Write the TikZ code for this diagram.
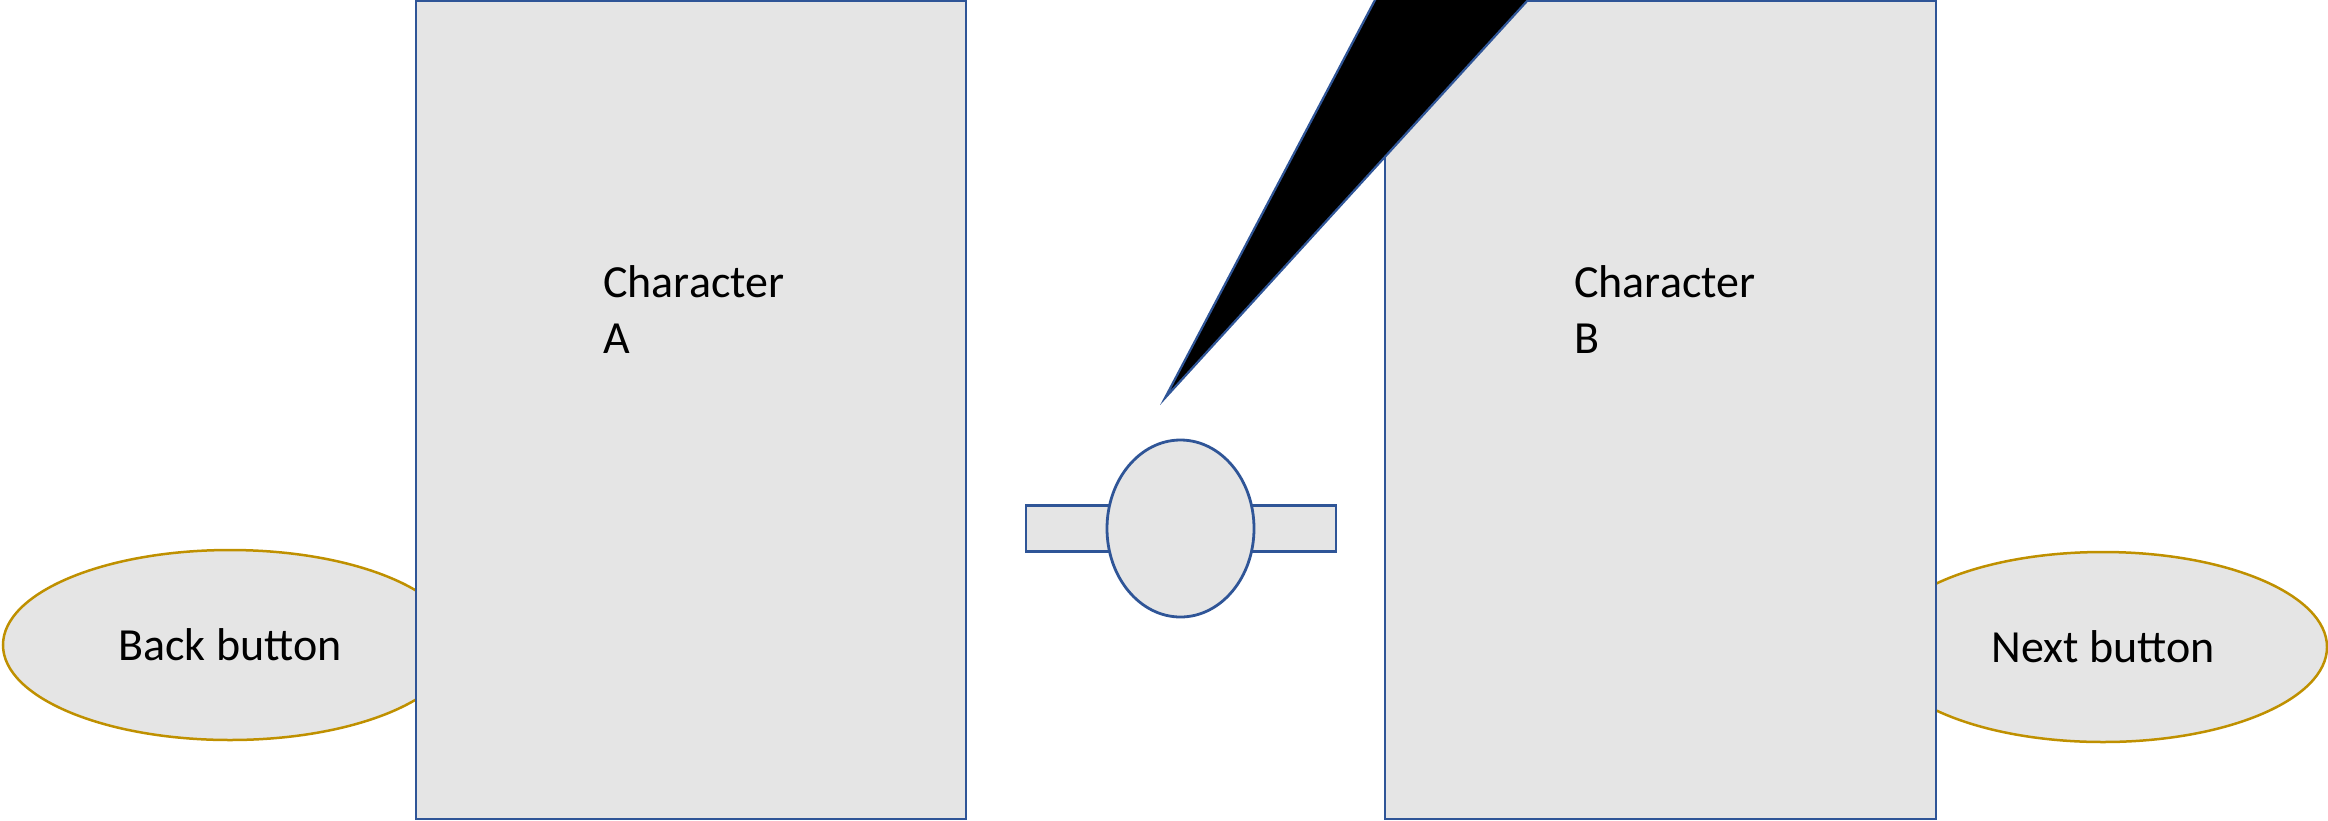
\documentclass[tikz,border=0pt]{standalone}
\usepackage{fontspec}
\setmainfont{Carlito}
\usetikzlibrary{shapes.geometric}
\definecolor{bluel}{HTML}{2F5597}
\definecolor{goldl}{HTML}{BF9000}
\definecolor{boxfill}{HTML}{E5E5E5}
\tikzset{
  charbox/.style={draw=bluel, line width=2.5pt, fill=boxfill, rectangle, inner sep=0pt},
  btn/.style={draw=goldl, line width=2.5pt, fill=boxfill, ellipse, inner sep=0pt, font=\fontsize{46}{56}\selectfont},
  lbl/.style={anchor=base west, align=left, inner sep=0pt, font=\fontsize{46}{56}\selectfont},
  knobpart/.style={draw=bluel, line width=2.8pt, fill=boxfill, inner sep=0pt},
}
\begin{document}
\begin{tikzpicture}[x=1pt,y=-1pt]
\useasboundingbox (0,0) rectangle (2328,820);
\clip (0,0) rectangle (2328,820);
% buttons (behind the character boxes)
\node[btn, minimum width=454pt, minimum height=190pt] (back) at (230,645) {Back button};
\node[btn, minimum width=448pt, minimum height=190pt] (next) at (2103,647) {Next button};
% character boxes
\node[charbox, minimum width=550pt, minimum height=818pt] (charA) at (691,410) {};
\node[charbox, minimum width=551pt, minimum height=818pt] (charB) at (1660.5,410) {};
\node[lbl] (labelA) at (603,353) {Character\\A};
\node[lbl] (labelB) at (1574,353) {Character\\B};
% knob with bar
\node[knobpart, rectangle, minimum width=310pt, minimum height=46pt] (bar) at (1181,528.7) {};
\node[knobpart, ellipse, minimum width=147pt, minimum height=177pt] (knob) at (1180.5,528.5) {};
% speech pointer
\coordinate (tip) at (1165,398);
\coordinate (tl) at (1380.3,-10);
\coordinate (tr) at (1537.1,-10);
\draw[draw=bluel, line width=2.2pt, fill=black, line join=miter] (tip) -- (tl) -- (tr) -- cycle;
\end{tikzpicture}
\end{document}
